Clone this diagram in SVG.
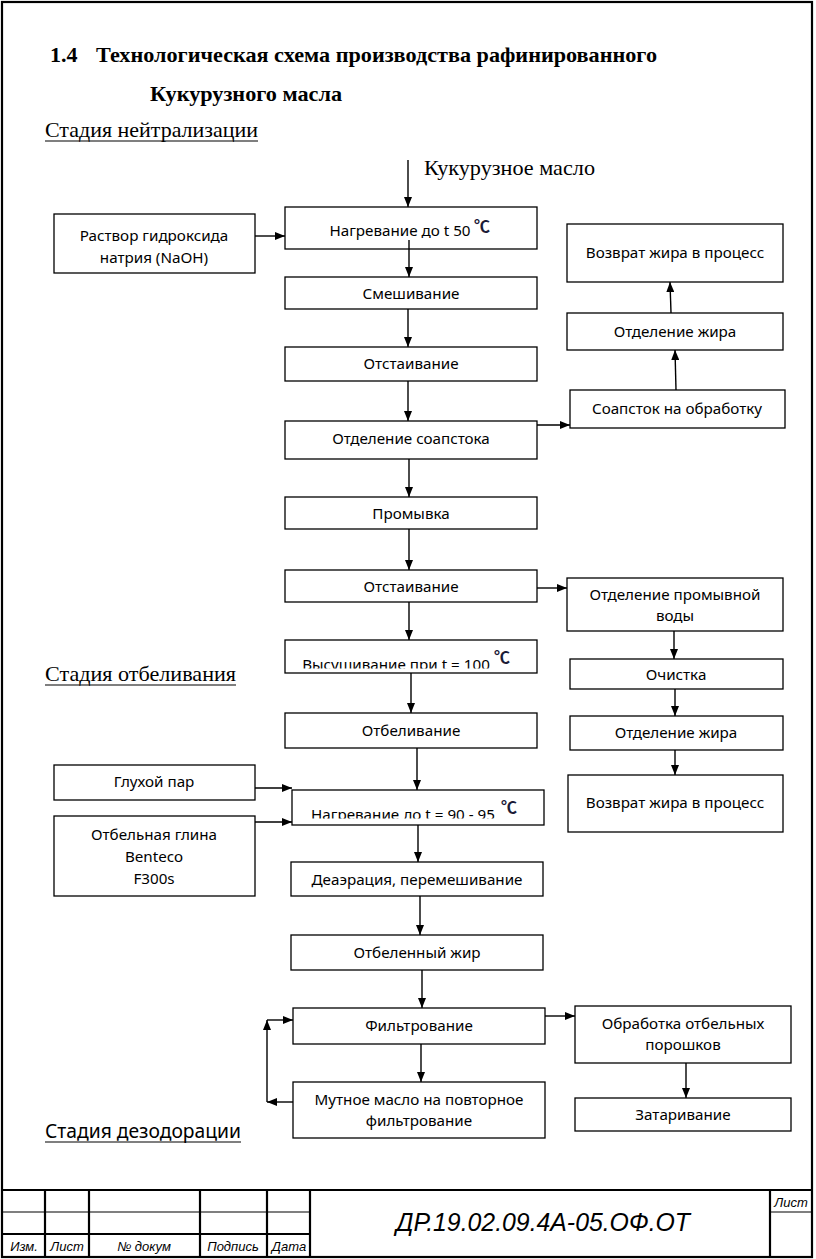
<svg xmlns="http://www.w3.org/2000/svg" width="816" height="1259" viewBox="0 0 816 1259">
<style>
.bx{fill:#fff;stroke:#000;stroke-width:1.3}
.t{font-family:"Noto Sans","Liberation Sans",sans-serif;font-size:15.2px;fill:#000;text-anchor:middle}
.deg{font-family:"Noto Sans CJK SC","DejaVu Sans",sans-serif;font-size:16px;font-weight:bold;fill:#1c1c38}
.ttl{font-family:"Liberation Serif",serif;font-size:22px;font-weight:bold;fill:#000}
.st{font-family:"Liberation Serif",serif;font-size:21px;fill:#000}
.sts{font-family:"Noto Sans","Liberation Sans",sans-serif;font-size:19px;fill:#000}
.c{fill:none;stroke:#000;stroke-width:1.4}
.fr{fill:none;stroke:#000;stroke-width:2.2}
.fr1{fill:none;stroke:#000;stroke-width:1.2}
.tb{font-family:"Liberation Sans",sans-serif;font-style:italic;fill:#000}
</style>
<defs>
<marker id="ah" markerWidth="10" markerHeight="8" refX="10" refY="4" orient="auto" markerUnits="userSpaceOnUse">
<path d="M0,0 L10,4 L0,8 Z" fill="#000"/>
</marker>
<clipPath id="clipDry"><rect x="285" y="640" width="252" height="28.5"/></clipPath>
<clipPath id="clipHeat"><rect x="292" y="790" width="252" height="28.5"/></clipPath>
</defs>
<rect width="816" height="1259" fill="#fff"/>

<!-- frame -->
<g id="frame">
<rect class="fr" x="2" y="2" width="810" height="1255"/>
<line class="fr" x1="2" y1="1190" x2="812" y2="1190"/>
<line class="fr" x1="45" y1="1190" x2="45" y2="1257"/>
<line class="fr" x1="89" y1="1190" x2="89" y2="1257"/>
<line class="fr" x1="200" y1="1190" x2="200" y2="1257"/>
<line class="fr" x1="267" y1="1190" x2="267" y2="1257"/>
<line class="fr" x1="310" y1="1190" x2="310" y2="1257"/>
<line class="fr" x1="770" y1="1190" x2="770" y2="1257"/>
<line class="fr1" x1="2" y1="1212" x2="310" y2="1212"/>
<line class="fr" x1="2" y1="1234" x2="310" y2="1234"/>
<line class="fr1" x1="770" y1="1212" x2="812" y2="1212"/>
<text class="tb" x="24" y="1251" font-size="13" text-anchor="middle">Изм.</text>
<text class="tb" x="67" y="1251" font-size="13" text-anchor="middle">Лист</text>
<text class="tb" x="144" y="1251" font-size="13" text-anchor="middle">№ докум</text>
<text class="tb" x="233" y="1251" font-size="13" text-anchor="middle">Подпись</text>
<text class="tb" x="289" y="1251" font-size="13" text-anchor="middle">Дата</text>
<text class="tb" x="791" y="1207" font-size="13" text-anchor="middle">Лист</text>
<text class="tb" x="543" y="1231" font-size="25" text-anchor="middle" textLength="294" lengthAdjust="spacingAndGlyphs">ДР.19.02.09.4А-05.ОФ.ОТ</text>
</g>

<!-- headings -->
<g id="headings">
<text class="ttl" x="50" y="62">1.4</text>
<text class="ttl" x="96" y="62" textLength="561" lengthAdjust="spacingAndGlyphs">Технологическая схема производства рафинированного</text>
<text class="ttl" x="150" y="101" textLength="192" lengthAdjust="spacingAndGlyphs">Кукурузного масла</text>
<text class="st" x="45" y="137" textLength="213" lengthAdjust="spacingAndGlyphs">Стадия нейтрализации</text>
<line x1="45" y1="141" x2="258" y2="141" stroke="#000" stroke-width="1.2"/>
<text class="st" x="424" y="175" textLength="171" lengthAdjust="spacingAndGlyphs">Кукурузное масло</text>
<text class="st" x="45" y="681" textLength="191" lengthAdjust="spacingAndGlyphs">Стадия отбеливания</text>
<line x1="45" y1="685" x2="236" y2="685" stroke="#000" stroke-width="1.2"/>
<text class="sts" x="45" y="1138" textLength="196" lengthAdjust="spacingAndGlyphs">Стадия дезодорации</text>
<line x1="45" y1="1142" x2="241" y2="1142" stroke="#000" stroke-width="1.2"/>
</g>

<!-- neutralization main column -->
<g id="n1"><rect class="bx" x="285" y="207" width="252" height="42"/><text class="t" x="400" y="236">Нагревание до t 50</text><text class="deg" x="474" y="232">℃</text></g>
<g id="naoh"><rect class="bx" x="54" y="214" width="201" height="59"/><text class="t" x="154" y="241">Раствор гидроксида</text><text class="t" x="154" y="263">натрия (NaOH)</text></g>
<g id="n2"><rect class="bx" x="285" y="277" width="252" height="32"/><text class="t" x="411" y="299">Смешивание</text></g>
<g id="n3"><rect class="bx" x="285" y="347" width="252" height="34"/><text class="t" x="411" y="369">Отстаивание</text></g>
<g id="n4"><rect class="bx" x="285" y="421" width="252" height="38"/><text class="t" x="411" y="444">Отделение соапстока</text></g>
<g id="n5"><rect class="bx" x="285" y="497" width="252" height="32"/><text class="t" x="411" y="519">Промывка</text></g>
<g id="n6"><rect class="bx" x="285" y="570" width="252" height="32"/><text class="t" x="411" y="592">Отстаивание</text></g>
<g id="n7"><rect class="bx" x="285" y="640" width="252" height="33"/><text class="t" x="396" y="670" clip-path="url(#clipDry)">Высушивание при t = 100</text><text class="deg" x="494" y="663">℃</text></g>
<g id="n8"><rect class="bx" x="285" y="713" width="252" height="35"/><text class="t" x="411" y="736">Отбеливание</text></g>

<!-- neutralization right columns -->
<g id="r1"><rect class="bx" x="567" y="224" width="216" height="58"/><text class="t" x="675" y="258">Возврат жира в процесс</text></g>
<g id="r2"><rect class="bx" x="567" y="313" width="216" height="37"/><text class="t" x="675" y="337">Отделение жира</text></g>
<g id="r3"><rect class="bx" x="570" y="390" width="215" height="38"/><text class="t" x="677" y="414">Соапсток на обработку</text></g>
<g id="w1"><rect class="bx" x="567" y="578" width="216" height="53"/><text class="t" x="675" y="600">Отделение промывной</text><text class="t" x="675" y="621">воды</text></g>
<g id="w2"><rect class="bx" x="570" y="659" width="213" height="30"/><text class="t" x="676" y="680">Очистка</text></g>
<g id="w3"><rect class="bx" x="570" y="716" width="213" height="34"/><text class="t" x="676" y="738">Отделение жира</text></g>
<g id="w4"><rect class="bx" x="568" y="775" width="215" height="57"/><text class="t" x="675" y="808">Возврат жира в процесс</text></g>

<!-- bleaching -->
<g id="b1"><rect class="bx" x="292" y="790" width="252" height="35"/><text class="t" x="403" y="820" clip-path="url(#clipHeat)">Нагревание до t = 90 - 95</text><text class="deg" x="501" y="813">℃</text></g>
<g id="steam"><rect class="bx" x="54" y="765" width="201" height="35"/><text class="t" x="154" y="787">Глухой пар</text></g>
<g id="clay"><rect class="bx" x="54" y="816" width="201" height="80"/><text class="t" x="154" y="840">Отбельная глина</text><text class="t" x="154" y="862">Bentecо</text><text class="t" x="154" y="884">F300s</text></g>
<g id="b2"><rect class="bx" x="291" y="862" width="252" height="34"/><text class="t" x="417" y="885">Деаэрация, перемешивание</text></g>
<g id="b3"><rect class="bx" x="291" y="935" width="252" height="35"/><text class="t" x="417" y="958">Отбеленный жир</text></g>
<g id="b4"><rect class="bx" x="293" y="1008" width="252" height="36"/><text class="t" x="419" y="1031">Фильтрование</text></g>
<g id="b5"><rect class="bx" x="293" y="1082" width="252" height="56"/><text class="t" x="419" y="1105">Мутное масло на повторное</text><text class="t" x="419" y="1126">фильтрование</text></g>
<g id="b6"><rect class="bx" x="575" y="1006" width="216" height="57"/><text class="t" x="683" y="1029">Обработка отбельных</text><text class="t" x="683" y="1050">порошков</text></g>
<g id="b7"><rect class="bx" x="575" y="1098" width="216" height="33"/><text class="t" x="683" y="1120">Затаривание</text></g>

<!-- connectors -->
<g id="connectors">
<line class="c" x1="408" y1="160" x2="408" y2="207" marker-end="url(#ah)"/>
<line class="c" x1="255" y1="236" x2="285" y2="236" marker-end="url(#ah)"/>
<line class="c" x1="409" y1="240" x2="409" y2="277" marker-end="url(#ah)"/>
<line class="c" x1="408" y1="309" x2="408" y2="347" marker-end="url(#ah)"/>
<line class="c" x1="408" y1="381" x2="408" y2="421" marker-end="url(#ah)"/>
<line class="c" x1="537" y1="425" x2="570" y2="425" marker-end="url(#ah)"/>
<line class="c" x1="676" y1="390" x2="675" y2="350" marker-end="url(#ah)"/>
<line class="c" x1="671" y1="313" x2="670" y2="282" marker-end="url(#ah)"/>
<line class="c" x1="409" y1="459" x2="409" y2="497" marker-end="url(#ah)"/>
<line class="c" x1="409" y1="529" x2="409" y2="570" marker-end="url(#ah)"/>
<line class="c" x1="537" y1="588" x2="567" y2="588" marker-end="url(#ah)"/>
<line class="c" x1="409" y1="602" x2="409" y2="640" marker-end="url(#ah)"/>
<line class="c" x1="674" y1="631" x2="674" y2="659" marker-end="url(#ah)"/>
<line class="c" x1="675" y1="689" x2="675" y2="716" marker-end="url(#ah)"/>
<line class="c" x1="675" y1="750" x2="675" y2="775" marker-end="url(#ah)"/>
<line class="c" x1="411" y1="673" x2="411" y2="713" marker-end="url(#ah)"/>
<line class="c" x1="417" y1="748" x2="417" y2="790" marker-end="url(#ah)"/>
<line class="c" x1="255" y1="788" x2="292" y2="788" marker-end="url(#ah)"/>
<line class="c" x1="255" y1="822" x2="292" y2="822" marker-end="url(#ah)"/>
<line class="c" x1="418" y1="825" x2="418" y2="862" marker-end="url(#ah)"/>
<line class="c" x1="420" y1="896" x2="420" y2="935" marker-end="url(#ah)"/>
<line class="c" x1="422" y1="970" x2="422" y2="1008" marker-end="url(#ah)"/>
<line class="c" x1="421" y1="1044" x2="421" y2="1082" marker-end="url(#ah)"/>
<line class="c" x1="293" y1="1102" x2="267" y2="1102" marker-end="url(#ah)"/>
<line class="c" x1="267" y1="1102" x2="267" y2="1020" marker-end="url(#ah)"/>
<line class="c" x1="267" y1="1020" x2="293" y2="1020" marker-end="url(#ah)"/>
<line class="c" x1="545" y1="1016" x2="575" y2="1016" marker-end="url(#ah)"/>
<line class="c" x1="686" y1="1063" x2="686" y2="1098" marker-end="url(#ah)"/>
</g>
</svg>
